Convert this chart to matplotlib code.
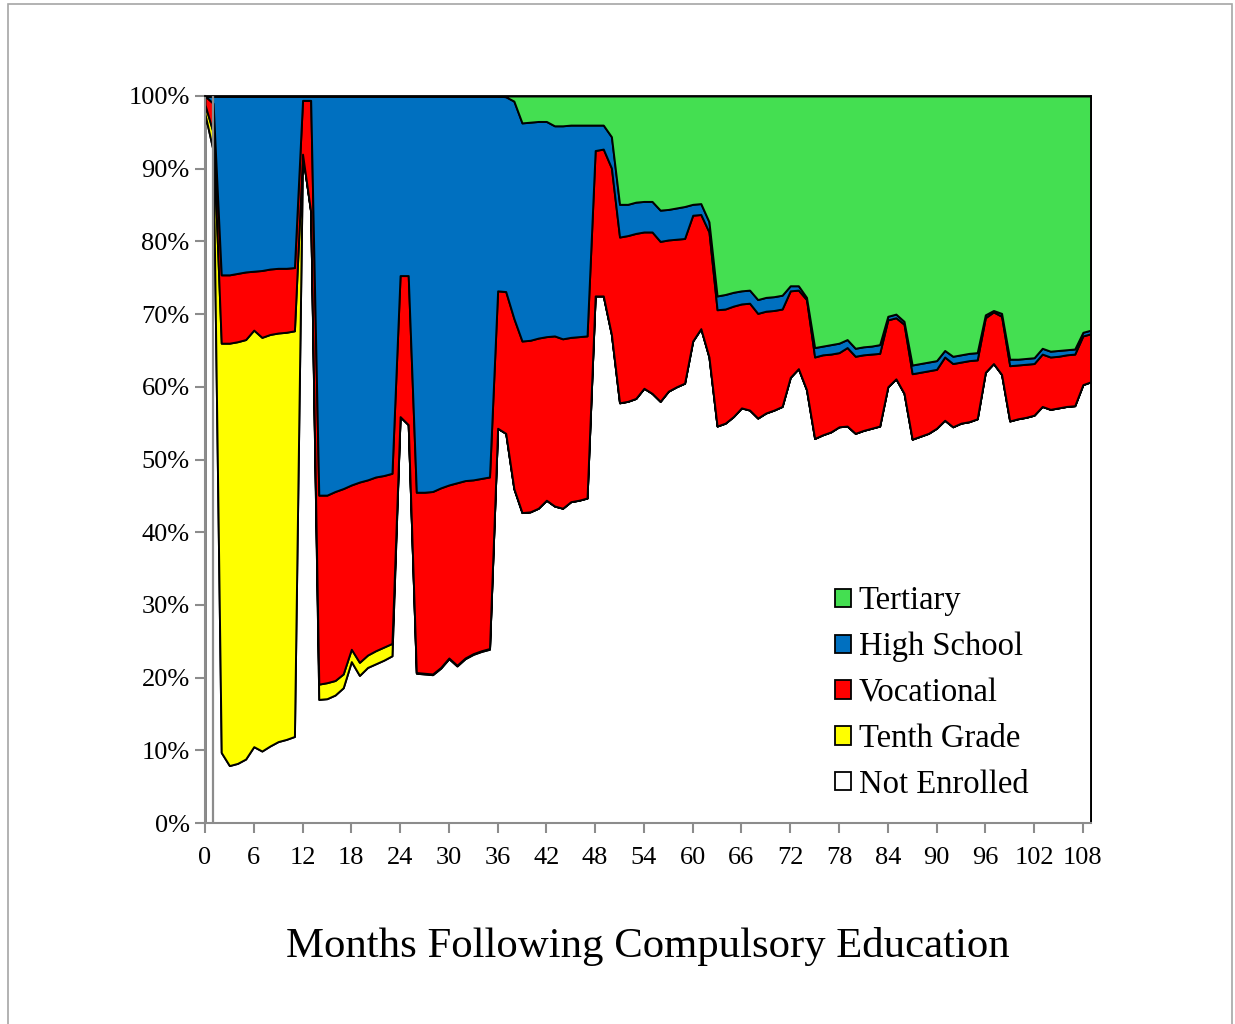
import numpy as np
import matplotlib
matplotlib.use('Agg')
import matplotlib.pyplot as plt
from matplotlib.patches import Patch, Rectangle

plt.rcParams['font.family'] = ['Liberation Serif', 'DejaVu Serif']

months = np.arange(0, 110)

# share of cohort (%) by status, month 0..109
not_enrolled = [
    97.5, 92.5, 9.7, 7.9, 8.2, 8.8, 10.5, 9.9, 10.6, 11.2, 11.5, 11.9,
    92.0, 84.1, 17.0, 17.1, 17.6, 18.6, 22.2, 20.3, 21.4, 21.9, 22.4, 23.0,
    55.9, 54.8, 20.6, 20.5, 20.4, 21.3, 22.6, 21.6, 22.6, 23.2, 23.6, 23.9,
    54.3, 53.6, 46.0, 42.7, 42.8, 43.3, 44.4, 43.6, 43.3, 44.2, 44.4, 44.7,
    72.5, 72.5, 67.2, 57.8, 58.0, 58.4, 59.8, 59.1, 58.0, 59.4, 60.0, 60.5,
    66.3, 68.0, 64.1, 54.6, 55.0, 55.9, 57.1, 56.8, 55.7, 56.4, 56.8, 57.3,
    61.3, 62.5, 59.6, 52.9, 53.4, 53.8, 54.5, 54.6, 53.6, 54.0, 54.3, 54.6,
    60.0, 61.1, 59.1, 52.8, 53.2, 53.6, 54.3, 55.4, 54.5, 55.0, 55.2, 55.6,
    62.0, 63.2, 61.7, 55.3, 55.6, 55.8, 56.1, 57.3, 56.9, 57.1, 57.3, 57.4,
    60.3, 60.7,
]
tenth_grade = [
    1.3, 2.5, 56.3, 58.1, 58.0, 57.7, 57.3, 56.9, 56.6, 56.2, 56.0, 55.8,
    0.0, 0.0, 2.1, 2.2, 2.0, 1.9, 1.7, 1.8, 1.7, 1.8, 1.8, 1.7,
    0.0, 0.0, 0.1, 0.1, 0.1, 0.1, 0.1, 0.1, 0.1, 0.1, 0.1, 0.1,
] + [0.0] * 74
vocational = [
    1.2, 4.0, 9.4, 9.4, 9.4, 9.3, 8.1, 9.2, 9.0, 8.9, 8.8, 8.7,
    7.4, 15.3, 26.0, 25.8, 26.0, 25.5, 22.6, 24.8, 24.1, 23.9, 23.6, 23.4,
    19.4, 20.5, 24.8, 24.9, 25.1, 24.7, 23.8, 25.1, 24.4, 23.9, 23.7, 23.6,
    18.9, 19.5, 23.4, 23.6, 23.6, 23.4, 22.5, 23.4, 23.3, 22.6, 22.5, 22.3,
    20.0, 20.2, 22.9, 22.8, 22.8, 22.7, 21.5, 22.2, 22.0, 20.8, 20.3, 19.9,
    17.3, 15.7, 17.2, 16.0, 15.7, 15.2, 14.3, 14.7, 14.4, 14.0, 13.7, 13.4,
    11.9, 10.8, 12.4, 11.2, 11.0, 10.7, 10.2, 10.8, 10.6, 10.4, 10.2, 10.0,
    9.2, 8.4, 9.5, 9.0, 8.8, 8.6, 8.1, 8.7, 8.7, 8.4, 8.4, 8.1,
    7.5, 7.1, 8.0, 7.6, 7.4, 7.3, 7.1, 7.2, 7.2, 7.1, 7.1, 7.1,
    6.7, 6.6,
]
high_school = [
    0.0, 1.0, 24.6, 24.6, 24.4, 24.2, 24.1, 24.0, 23.8, 23.7, 23.7, 23.6,
    0.6, 0.6, 54.9, 54.9, 54.4, 54.0, 53.5, 53.1, 52.8, 52.4, 52.2, 51.9,
    24.7, 24.7, 54.5, 54.5, 54.4, 53.9, 53.5, 53.2, 52.9, 52.8, 52.6, 52.4,
    26.8, 26.8, 29.9, 30.0, 30.0, 29.8, 29.6, 28.9, 29.3, 29.2, 29.1, 29.0,
    3.5, 3.3, 4.3, 4.5, 4.3, 4.3, 4.2, 4.2, 4.3, 4.2, 4.3, 4.4,
    1.5, 1.5, 1.4, 1.9, 2.0, 1.9, 1.8, 1.8, 1.9, 1.9, 1.9, 1.9,
    0.7, 0.6, 0.3, 1.3, 1.2, 1.3, 1.3, 1.1, 1.1, 1.1, 1.1, 1.2,
    0.5, 0.5, 0.4, 1.2, 1.2, 1.2, 1.2, 0.9, 1.0, 1.0, 1.0, 1.0,
    0.4, 0.2, 0.4, 0.9, 0.8, 0.8, 0.8, 0.8, 0.8, 0.8, 0.7, 0.7,
    0.5, 0.5,
]
tertiary = [0.0] * 36 + [
    0.0, 0.1, 0.7, 3.7, 3.6, 3.5, 3.5, 4.1, 4.1, 4.0, 4.0, 4.0,
    4.0, 4.0, 5.6, 14.9, 14.9, 14.6, 14.5, 14.5, 15.7, 15.6, 15.4, 15.2,
    14.9, 14.8, 17.3, 27.5, 27.3, 27.0, 26.8, 26.7, 28.0, 27.7, 27.6, 27.4,
    26.1, 26.1, 27.7, 34.6, 34.4, 34.2, 34.0, 33.5, 34.7, 34.5, 34.4, 34.2,
    30.3, 30.0, 31.0, 37.0, 36.8, 36.6, 36.4, 35.0, 35.8, 35.6, 35.4, 35.3,
    30.1, 29.5, 29.9, 36.2, 36.2, 36.1, 36.0, 34.7, 35.1, 35.0, 34.9, 34.8,
    32.5, 32.2,
]

labels = ['Not Enrolled', 'Tenth Grade', 'Vocational', 'High School', 'Tertiary']
colors = ['#FFFFFF', '#FFFF00', '#FF0000', '#0070C0', '#44DF51']

W, H = 1235, 1024
fig = plt.figure(figsize=(W / 100, H / 100), dpi=100)
ax = fig.add_axes([205 / W, 1 - 823 / H, (1091 - 205) / W, (823 - 96) / H])

ax.stackplot(months, not_enrolled, tenth_grade, vocational, high_school, tertiary,
             colors=colors, edgecolor='black', linewidth=1.4)

ax.axvline(1, color='#8C8C8C', linewidth=1.6, zorder=5)

ax.set_xlim(0, 109)
ax.set_ylim(0, 100)
ax.set_xticks(np.arange(0, 109, 6))
ax.set_yticks(np.arange(0, 101, 10))
ax.set_yticklabels([f'{v}%' for v in range(0, 101, 10)])
ax.tick_params(axis='both', direction='out', length=7, width=1.5, color='#8C8C8C',
               labelsize=19)
ax.tick_params(axis='y', pad=4)
ax.tick_params(axis='x', pad=10)

for side in ['left', 'bottom']:
    ax.spines[side].set_color('#8C8C8C')
    ax.spines[side].set_linewidth(1.5)
for side in ['top', 'right']:
    ax.spines[side].set_color('black')
    ax.spines[side].set_linewidth(1.3)

ax.text(0.5, -0.17, 'Months Following Compulsory Education', transform=ax.transAxes,
        ha='center', va='center', fontsize=30.8)

handles = [Patch(facecolor=c, edgecolor='black', linewidth=1.3, label=l)
           for c, l in zip(colors[::-1], labels[::-1])]
ax.legend(handles=handles, loc='upper left', bbox_to_anchor=(835 / W, 1 - 586 / H),
          bbox_transform=fig.transFigure, frameon=False, fontsize=23.5,
          handlelength=0.48, handleheight=0.48, handletextpad=0.25,
          labelspacing=0.47, borderpad=0, borderaxespad=0)

fig.patches.append(Rectangle((8 / W, -0.02), (1232 - 8) / W, 1.018 - 2 / H,
                             transform=fig.transFigure, fill=False,
                             edgecolor='#A6A6A6', linewidth=1.2))

fig.savefig('out.png', dpi=100)
